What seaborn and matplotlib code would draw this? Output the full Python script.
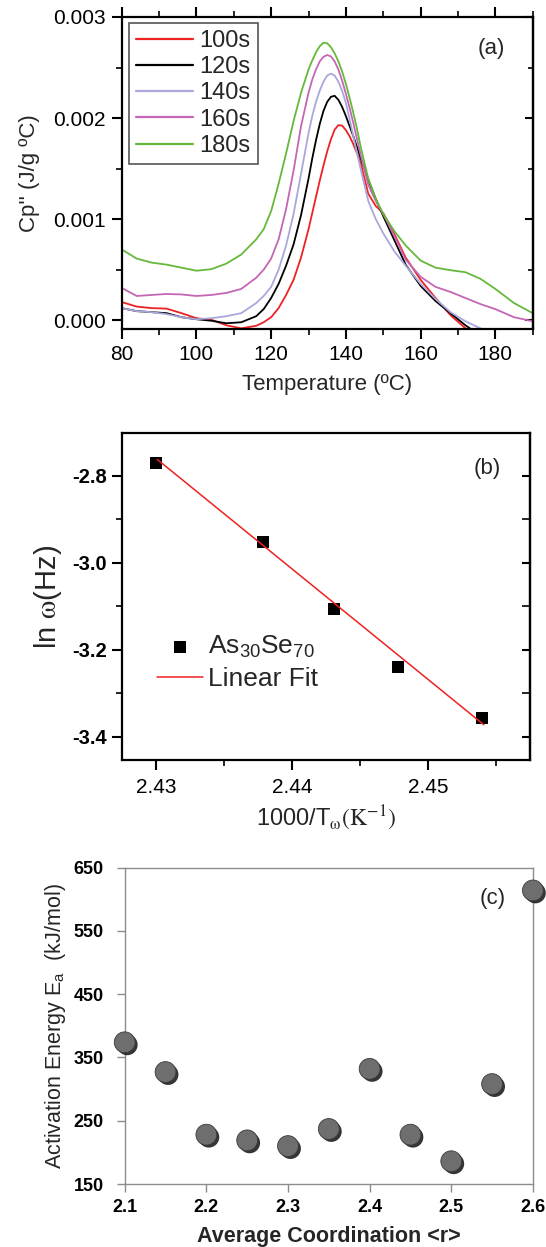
import numpy as np
import pandas as pd
import matplotlib
matplotlib.use("Agg")
import matplotlib.pyplot as plt
import matplotlib.patheffects as pe
from matplotlib.ticker import MultipleLocator, FixedLocator
import seaborn as sns

# ---------------- data ----------------
# panel (a): reversing heat flow Cp'' vs temperature
temperature = [80, 84, 88, 92, 96, 100, 104, 108, 112, 116, 118, 120, 122, 124, 126, 128,
               130, 131, 132, 133, 134, 135, 136, 137, 138, 139, 140, 141, 142, 143, 144,
               146, 148, 150, 153, 156, 160, 164, 168, 172, 176, 180, 185, 190]
cp_100s = [0.000180, 0.000135, 0.000120, 0.000115, 0.000070, 0.000020, 0.000005, -0.000050,
           -0.000080, -0.000055, -0.000020, 0.000030, 0.000120, 0.000250, 0.000400, 0.000620,
           0.000900, 0.001060, 0.001220, 0.001380, 0.001530, 0.001670, 0.001790, 0.001885,
           0.001930, 0.001925, 0.001880, 0.001820, 0.001740, 0.001650, 0.001550,
           0.001250, 0.001130, 0.001060, 0.000850, 0.000620, 0.000400, 0.000220, 0.000050,
           -0.000080, -0.000200, -0.000300, -0.000400, -0.000500]
cp_120s = [0.000120, 0.000090, 0.000080, 0.000070, 0.000030, 0.000010, -0.000005, -0.000030,
           -0.000020, 0.000040, 0.000110, 0.000220, 0.000360, 0.000540, 0.000750, 0.001040,
           0.001400, 0.001600, 0.001780, 0.001940, 0.002070, 0.002160, 0.002210, 0.002220,
           0.002180, 0.002110, 0.002020, 0.001920, 0.001820, 0.001710, 0.001600,
           0.001390, 0.001200, 0.001030, 0.000790, 0.000550, 0.000340, 0.000190, 0.000070,
           -0.000050, -0.000150, -0.000250, -0.000350, -0.000450]
cp_140s = [0.000120, 0.000090, 0.000080, 0.000060, 0.000030, 0.000010, 0.000020, 0.000040,
           0.000070, 0.000170, 0.000240, 0.000330, 0.000500, 0.000740, 0.001050, 0.001450,
           0.001850, 0.002020, 0.002160, 0.002270, 0.002360, 0.002420, 0.002440, 0.002420,
           0.002360, 0.002270, 0.002150, 0.001990, 0.001820, 0.001650, 0.001490,
           0.001180, 0.001000, 0.000860, 0.000680, 0.000540, 0.000360, 0.000210, 0.000080,
           -0.000010, -0.000080, -0.000130, -0.000250, -0.000350]
cp_160s = [0.000320, 0.000240, 0.000250, 0.000260, 0.000255, 0.000240, 0.000250, 0.000270,
           0.000310, 0.000420, 0.000500, 0.000610, 0.000800, 0.001100, 0.001480, 0.001920,
           0.002250, 0.002380, 0.002480, 0.002560, 0.002605, 0.002624, 0.002610, 0.002560,
           0.002480, 0.002370, 0.002240, 0.002100, 0.001950, 0.001790, 0.001630,
           0.001340, 0.001180, 0.001050, 0.000830, 0.000600, 0.000430, 0.000330, 0.000280,
           0.000220, 0.000160, 0.000110, 0.000030, -0.000010]
cp_180s = [0.000700, 0.000610, 0.000570, 0.000550, 0.000520, 0.000490, 0.000505, 0.000560,
           0.000650, 0.000800, 0.000900, 0.001080, 0.001350, 0.001650, 0.001970, 0.002250,
           0.002480, 0.002570, 0.002650, 0.002710, 0.002745, 0.002740, 0.002700, 0.002640,
           0.002560, 0.002460, 0.002340, 0.002200, 0.002050, 0.001890, 0.001710,
           0.001400, 0.001200, 0.001050, 0.000880, 0.000740, 0.000590, 0.000520, 0.000495,
           0.000475, 0.000410, 0.000310, 0.000170, 0.000070]
series_labels = ["100s", "120s", "140s", "160s", "180s"]
series_colors = ["#ee2222", "#000000", "#a8a8dc", "#c466b4", "#66b83a"]

# panel (b): Arrhenius plot
inv_T = [2.4300, 2.4379, 2.4431, 2.4478, 2.4540]
ln_omega = [-2.771, -2.952, -3.106, -3.239, -3.356]
fit_x = [2.4301, 2.4541]
fit_y = [-2.763, -3.372]

# panel (c): activation energy vs mean coordination
avg_coord = [2.10, 2.15, 2.20, 2.25, 2.30, 2.35, 2.40, 2.45, 2.50, 2.55, 2.60]
act_energy = [374, 327, 228, 219, 210, 237, 332, 228, 186, 308, 614]
c_yticks = [150, 250, 350, 450, 550, 650]
c_xticks = [2.1, 2.2, 2.3, 2.4, 2.5, 2.6]

# ---------------- style ----------------
sns.set_style("ticks")
plt.rcParams["font.family"] = ["Liberation Sans", "DejaVu Sans"]
plt.rcParams["mathtext.fontset"] = "custom"
plt.rcParams["mathtext.rm"] = "Liberation Sans"
plt.rcParams["mathtext.it"] = "Liberation Sans:italic"
plt.rcParams["mathtext.bf"] = "Liberation Sans:bold"
plt.rcParams["axes.edgecolor"] = "black"
plt.rcParams["xtick.color"] = "black"
plt.rcParams["ytick.color"] = "black"

fig = plt.figure(figsize=(5.46, 12.47), dpi=100)

# ---------------- panel (a) ----------------
axa = fig.add_axes([0.2229, 0.7359, 0.7527, 0.2505])
df_a = pd.DataFrame({
    "T": temperature * 5,
    "Cp": cp_100s + cp_120s + cp_140s + cp_160s + cp_180s,
    "series": sum([[s] * len(temperature) for s in series_labels], []),
})
sns.lineplot(data=df_a, x="T", y="Cp", hue="series", hue_order=series_labels,
             palette=series_colors, sort=False, linewidth=1.3, ax=axa)
axa.set_xlim(80, 190)
axa.set_ylim(-0.00009, 0.003)
axa.xaxis.set_major_locator(MultipleLocator(20))
axa.xaxis.set_minor_locator(MultipleLocator(10))
axa.yaxis.set_major_locator(MultipleLocator(0.001))
axa.yaxis.set_minor_locator(MultipleLocator(0.0005))
axa.yaxis.set_major_formatter(matplotlib.ticker.FormatStrFormatter("%.3f"))
axa.tick_params(which="both", direction="out", top=True, labelsize=15, pad=4.5)
axa.tick_params(which="major", length=7, width=1.5)
axa.tick_params(which="minor", length=4, width=1.2)
for s in axa.spines.values():
    s.set_linewidth(1.6)
sec = axa.secondary_yaxis("right")
sec.yaxis.set_major_locator(MultipleLocator(0.001))
sec.yaxis.set_minor_locator(MultipleLocator(0.0005))
sec.tick_params(which="both", direction="in", labelright=False)
sec.tick_params(which="major", length=6, width=1.5)
sec.tick_params(which="minor", length=3.5, width=1.2)
sec.spines["right"].set_linewidth(1.6)
axa.set_xlabel("Temperature (ºC)", fontsize=16, labelpad=7)
axa.set_ylabel("Cp'' (J/g ºC)", fontsize=16, labelpad=9)
sns.move_legend(axa, "upper left", bbox_to_anchor=(0.0175, 0.981), title=None,
                fontsize=17, frameon=True, fancybox=False, edgecolor="#555555",
                framealpha=1, borderaxespad=0, borderpad=0.3, labelspacing=0.18,
                handlelength=2.4, handletextpad=0.3)
axa.get_legend().get_frame().set_linewidth(1.2)
for line in axa.get_legend().get_lines():
    line.set_linewidth(1.6)
axa.text(0.8985, 0.90, "(a)", transform=axa.transAxes, fontsize=16,
         ha="center", va="center")

# ---------------- panel (b) ----------------
axb = fig.add_axes([0.2233, 0.3905, 0.7476, 0.2620])
sns.scatterplot(x=inv_T, y=ln_omega, marker="s", s=64, color="black",
                edgecolor="black", linewidth=0, ax=axb, zorder=2,
                label="As$_{30}$Se$_{70}$")
sns.lineplot(x=fit_x, y=fit_y, color="#ee2222", linewidth=1.1, ax=axb, zorder=3,
             label="Linear Fit")
axb.set_xlim(2.4275, 2.4575)
axb.set_ylim(-3.453, -2.703)
axb.xaxis.set_major_locator(FixedLocator([2.43, 2.44, 2.45]))
axb.xaxis.set_minor_locator(FixedLocator([2.435, 2.445, 2.455]))
axb.yaxis.set_major_locator(FixedLocator([-2.8, -3.0, -3.2, -3.4]))
axb.yaxis.set_minor_locator(FixedLocator([-2.7, -2.9, -3.1, -3.3]))
axb.xaxis.set_major_formatter(matplotlib.ticker.FormatStrFormatter("%.2f"))
axb.yaxis.set_major_formatter(matplotlib.ticker.FormatStrFormatter("%.1f"))
axb.tick_params(which="both", direction="out")
axb.tick_params(axis="x", labelsize=15, pad=6)
axb.tick_params(axis="y", labelsize=14.5, pad=3.5)
axb.tick_params(which="major", length=7, width=1.5)
axb.tick_params(which="minor", length=4, width=1.2)
plt.setp(axb.get_yticklabels(), fontweight="bold")
for s in axb.spines.values():
    s.set_linewidth(1.6)
secb = axb.secondary_yaxis("right")
secb.yaxis.set_major_locator(FixedLocator([-2.8, -3.0, -3.2, -3.4]))
secb.yaxis.set_minor_locator(FixedLocator([-2.7, -2.9, -3.1, -3.3]))
secb.tick_params(which="both", direction="in", labelright=False)
secb.tick_params(which="major", length=6, width=1.5)
secb.tick_params(which="minor", length=6, width=1.2)
secb.spines["right"].set_linewidth(1.6)
axb.set_xlabel(r"1000/T$_{\mathrm{ω}}\mathrm{(K^{-1})}$", fontsize=17,
               labelpad=4, math_fontfamily="stix")
axb.set_ylabel(r"ln $\mathrm{ω}$(Hz)", fontsize=21, labelpad=6,
               math_fontfamily="stix")
axb.legend(loc="center left", bbox_to_anchor=(0.085, 0.298), frameon=False,
           fontsize=19, borderaxespad=0, borderpad=0, labelspacing=0.25,
           handlelength=1.75, handletextpad=0.2, markerscale=1.0)
axb.text(0.896, 0.893, "(b)", transform=axb.transAxes, fontsize=16,
         ha="center", va="center")

# ---------------- panel (c) ----------------
axc = fig.add_axes([0.2284, 0.0505, 0.7476, 0.2537])
sns.scatterplot(x=avg_coord, y=act_energy, s=225, color="#6e6e6e",
                edgecolor="#3a3a3a", linewidth=0.6, ax=axc, clip_on=False, zorder=5)
axc.collections[-1].set_path_effects([
    pe.SimplePatchShadow(offset=(1.8, -1.8), shadow_rgbFace="#111111", alpha=0.85),
    pe.Normal(),
])
axc.set_xlim(2.1, 2.6)
axc.set_ylim(150, 650)
axc.xaxis.set_major_locator(FixedLocator(c_xticks))
axc.yaxis.set_major_locator(FixedLocator(c_yticks))
axc.xaxis.set_major_formatter(matplotlib.ticker.FormatStrFormatter("%.1f"))
for s in axc.spines.values():
    s.set_color("#8c8c8c")
    s.set_linewidth(1.0)
axc.tick_params(direction="out", length=6, width=1.0, color="#8c8c8c",
                labelsize=13)
axc.tick_params(axis="y", pad=9)
axc.tick_params(axis="x", pad=5)
plt.setp(axc.get_yticklabels(), fontweight="bold")
plt.setp(axc.get_xticklabels(), fontweight="bold")
axc.set_xlabel("Average Coordination <r>", fontsize=15.5, fontweight="bold",
               labelpad=7)
axc.set_ylabel(r"Activation Energy E$_{\mathrm{a}}$  (kJ/mol)", fontsize=15.5,
               labelpad=4)
axc.text(0.9015, 0.903, "(c)", transform=axc.transAxes, fontsize=16,
         ha="center", va="center")

fig.savefig("out.png", dpi=100, facecolor="white")
